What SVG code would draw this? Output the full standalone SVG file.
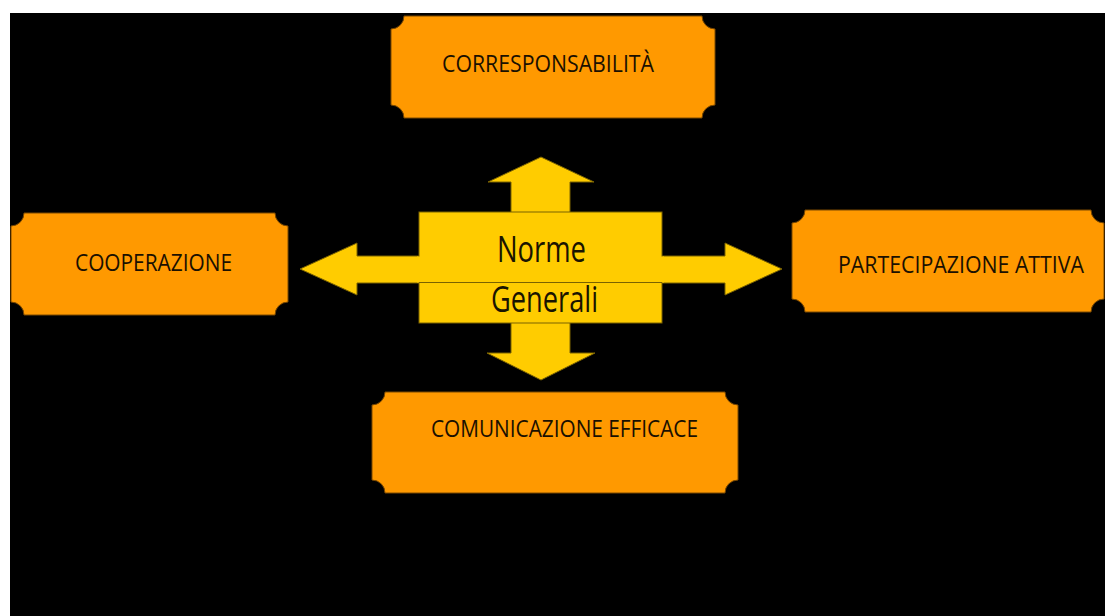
<svg xmlns="http://www.w3.org/2000/svg" width="1105" height="616" viewBox="0 0 1105 616">
<style>
.plaque{fill:#FF9900;stroke:#7a4800;stroke-width:1}
.lbl{font-family:"Open Sans","Liberation Sans",sans-serif;font-size:24px;fill:#1a1000}
.big{font-family:"Open Sans","Liberation Sans",sans-serif;font-size:37px;fill:#1a1400}
.arr{fill:#FFCC00;stroke:#7a6200;stroke-width:1}
</style>
<rect x="0" y="0" width="1105" height="616" fill="#ffffff"/>
<rect x="10" y="13" width="1095" height="603" fill="#000000"/>

<g id="connectors">
  <path class="arr" d="M541,157 L594,182 L570,182 L570,353 L595,353 L541,380 L487,353 L511,353 L511,182 L488,182 Z"/>
  <path class="arr" d="M300,269 L357,243 L357,256 L725,256 L725,243 L782,269 L725,295 L725,283 L357,283 L357,295 Z"/>
</g>

<g id="center">
  <rect x="419" y="212" width="243" height="111" fill="#FFCC00" stroke="#7a6200" stroke-width="1"/>
  <rect x="417" y="256.5" width="5" height="26" fill="#FFCC00"/>
  <rect x="659" y="256.5" width="5" height="26" fill="#FFCC00"/>
  <line x1="419" y1="282.5" x2="662" y2="282.5" stroke="#7a6200" stroke-width="1"/>
  <text class="big" x="541.5" y="262" text-anchor="middle" textLength="89" lengthAdjust="spacingAndGlyphs">Norme</text>
  <text class="big" x="544.5" y="312" text-anchor="middle" textLength="107" lengthAdjust="spacingAndGlyphs">Generali</text>
</g>

<g id="node-corresponsabilita">
  <path class="plaque" d="M404,16 H702 A13,13 0 0 0 715,29 V105 A13,13 0 0 0 702,118 H404 A13,13 0 0 0 391,105 V29 A13,13 0 0 0 404,16 Z"/>
  <text class="lbl" x="442" y="72" textLength="212" lengthAdjust="spacingAndGlyphs">CORRESPONSABILITÀ</text>
</g>

<g id="node-cooperazione">
  <path class="plaque" d="M24,213 H275 A13,13 0 0 0 288,226 V302 A13,13 0 0 0 275,315 H24 A13,13 0 0 0 11,302 V226 A13,13 0 0 0 24,213 Z"/>
  <text class="lbl" x="75" y="271" textLength="157" lengthAdjust="spacingAndGlyphs">COOPERAZIONE</text>
</g>

<g id="node-partecipazione">
  <path class="plaque" d="M805,210 H1091 A13,13 0 0 0 1104,223 V299 A13,13 0 0 0 1091,312 H805 A13,13 0 0 0 792,299 V223 A13,13 0 0 0 805,210 Z"/>
  <text class="lbl" transform="translate(838,273) scale(0.75,1)" x="0" y="0" textLength="328" lengthAdjust="spacingAndGlyphs">PARTECIPAZIONE ATTIVA</text>
</g>

<g id="node-comunicazione">
  <path class="plaque" d="M385,392 H725 A13,13 0 0 0 738,405 V480 A13,13 0 0 0 725,493 H385 A13,13 0 0 0 372,480 V405 A13,13 0 0 0 385,392 Z"/>
  <text class="lbl" x="431" y="437" textLength="267" lengthAdjust="spacingAndGlyphs">COMUNICAZIONE EFFICACE</text>
</g>
</svg>
